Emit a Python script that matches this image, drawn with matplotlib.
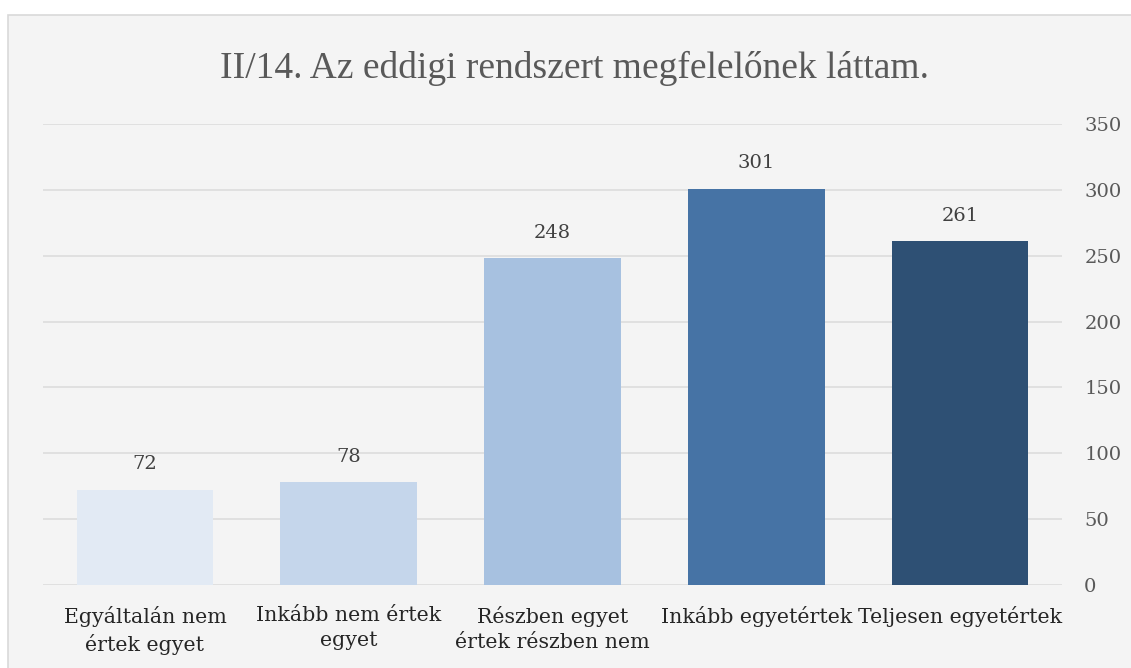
import matplotlib.pyplot as plt
import numpy as np
from matplotlib.patches import Rectangle

categories = ['Egyáltalán nem\nértek egyet', 'Inkább nem értek\negyet',
              'Részben egyet\nértek részben nem', 'Inkább egyetértek',
              'Teljesen egyetértek']
values = [72, 78, 248, 301, 261]
bar_colors = ['#e2eaf4', '#c5d6eb', '#a7c1e0', '#4673a5', '#2e5074']
yticks = [0, 50, 100, 150, 200, 250, 300, 350]
title = 'II/14. Az eddigi rendszert megfelelőnek láttam.'

serif = ['DejaVu Serif']

fig = plt.figure(figsize=(11.31, 6.68), dpi=100, facecolor='white')
# chart area background with border
fig.patches.append(Rectangle((8 / 1131, -0.01), 1.0, 1 - 15 / 668 + 0.01,
                             transform=fig.transFigure, facecolor='#f4f4f4',
                             edgecolor='#d9d9d9', linewidth=1.2, zorder=-5))

ax = fig.add_axes((43 / 1131, 1 - 585 / 668, (1062 - 43) / 1131, (585 - 124) / 668))
ax.set_zorder(2)
ax.set_facecolor('none')
x = np.arange(len(categories))
bars = ax.bar(x, values, width=0.67, color=bar_colors, zorder=3)
for xi, v in zip(x, values):
    ax.annotate(str(v), (xi, v), xytext=(0, 12), textcoords='offset points',
                ha='center', va='bottom', fontsize=14, color='#404040', family=serif)

ax.set_xlim(-0.5, len(categories) - 0.5)
ax.set_ylim(0, 350)
ax.set_yticks(yticks)
ax.yaxis.tick_right()
ax.tick_params(axis='y', length=0, pad=16, labelsize=14, labelcolor='#595959')
ax.tick_params(axis='x', length=0, pad=15, labelsize=14.8, labelcolor='#262626')
ax.set_xticks(x)
ax.set_xticklabels(categories, family=serif, linespacing=1.4)
for lbl in ax.get_yticklabels():
    lbl.set_family(serif)
ax.grid(axis='y', color='#dedede', linewidth=1.3, zorder=0)
for s in ax.spines.values():
    s.set_visible(False)

fig.text(575 / 1131, 1 - 68 / 668, title, ha='center', va='center',
         fontsize=27, color='#595959', family=['Liberation Serif'], zorder=3)

fig.savefig('out.png', dpi=100, facecolor=fig.get_facecolor())
